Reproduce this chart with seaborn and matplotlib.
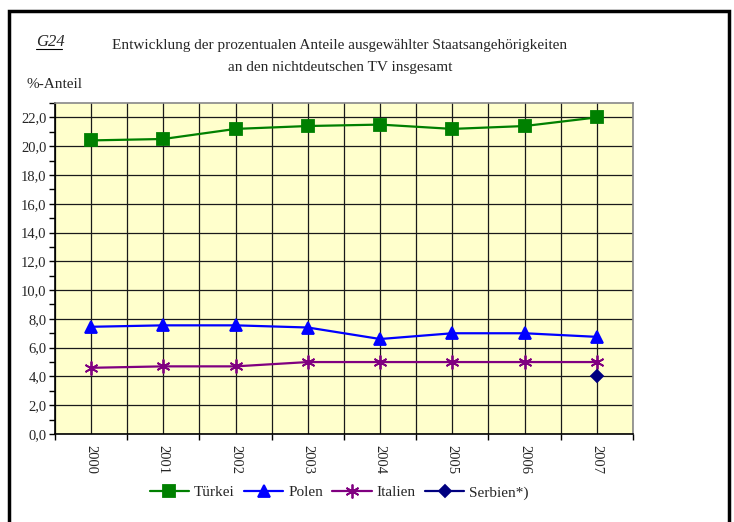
import numpy as np
import pandas as pd
import matplotlib
matplotlib.use("Agg")
import matplotlib.pyplot as plt
import seaborn as sns
from matplotlib.ticker import FuncFormatter, MultipleLocator, FixedLocator
from matplotlib.patches import Rectangle

years = ["2000", "2001", "2002", "2003", "2004", "2005", "2006", "2007"]
tuerkei = [20.4, 20.5, 21.2, 21.4, 21.5, 21.2, 21.4, 22.0]
polen = [7.45, 7.55, 7.55, 7.4, 6.6, 7.0, 7.0, 6.75]
italien = [4.6, 4.7, 4.7, 5.0, 5.0, 5.0, 5.0, 5.0]
serbien = [np.nan, np.nan, np.nan, np.nan, np.nan, np.nan, np.nan, 4.0]

series = [
    ("Türkei", tuerkei, "#008000", "s", 9),
    ("Polen", polen, "#0000FF", "^", 9),
    ("Italien", italien, "#800080", (6, 2, 0), 10),
    ("Serbien*)", serbien, "#000080", "D", 6),
]

sns.set_style("white")
plt.rcParams["font.family"] = ["Liberation Serif", "DejaVu Serif"]

fig = plt.figure(figsize=(7.34, 5.22), dpi=100)
ax = fig.add_axes([55 / 734, 1 - 434 / 522, (633 - 55) / 734, (434 - 103) / 522])
ax.set_facecolor("#FFFFCC")

pos = np.arange(len(years))
for name, vals, col, mk, ms in series:
    df = pd.DataFrame({"x": pos, "y": vals})
    sns.lineplot(data=df, x="x", y="y", ax=ax, color=col, marker=mk,
                 markersize=ms, markeredgecolor=col, markeredgewidth=1.3,
                 linewidth=1.6, label=name)

ax.set_xlim(-0.5, len(years) - 0.5)
ax.set_ylim(0, 23)

# grid: horizontal every 2, vertical at categories and boundaries
for y in np.arange(0, 23, 2):
    ax.axhline(y, color="#1a1a1a", lw=0.9, zorder=0.5)
for x in np.arange(-0.5, len(years), 0.5):
    ax.axvline(x, color="#1a1a1a", lw=0.9, zorder=0.5)

ax.yaxis.set_major_locator(MultipleLocator(2))
ax.yaxis.set_minor_locator(MultipleLocator(1))
ax.yaxis.set_major_formatter(FuncFormatter(lambda v, p: f"{v:.1f}".replace(".", ",")))
ax.xaxis.set_major_locator(FixedLocator(pos))
ax.set_xticklabels(years, rotation=-90, fontsize=10.5)
ax.xaxis.set_minor_locator(FixedLocator(np.arange(-0.5, len(years), 1.0)))
ax.tick_params(axis="x", which="major", length=0, pad=8)
ax.tick_params(axis="x", which="minor", length=4, width=1, color="black", direction="out", bottom=True)
ax.tick_params(axis="y", which="both", length=4, width=1, color="black", direction="out", left=True, labelsize=10.5)
ax.tick_params(axis="y", which="major", pad=2)
ax.set_xlabel("")
ax.set_ylabel("")

for side in ["top", "right"]:
    ax.spines[side].set_visible(True)
    ax.spines[side].set_color("#888888")
    ax.spines[side].set_linewidth(1.2)
for side in ["left", "bottom"]:
    ax.spines[side].set_color("black")
    ax.spines[side].set_linewidth(1.2)

ax.legend(loc="upper center", bbox_to_anchor=(339 / 734, 1 - 472 / 522),
          bbox_transform=fig.transFigure, ncol=4, frameon=False, fontsize=11,
          handlelength=2.6, columnspacing=0.6, handletextpad=0.3)

fig.text(36 / 734, 1 - 42 / 522, "G24", fontsize=12, style="italic", va="center")
fig.add_artist(plt.Line2D([36 / 734, 62 / 734], [1 - 49 / 522, 1 - 49 / 522],
                          color="black", lw=0.8))
fig.text(340 / 734, 1 - 46 / 522, "Entwicklung der prozentualen Anteile ausgewählter Staatsangehörigkeiten",
         fontsize=11, ha="center", va="center")
fig.text(340 / 734, 1 - 68 / 522, "an den nichtdeutschen TV insgesamt",
         fontsize=11, ha="center", va="center")
fig.text(26 / 734, 1 - 85 / 522, "%-Anteil", fontsize=11, va="center")

fig.add_artist(Rectangle((9 / 734, -0.01), (729 - 9) / 734, 1 - 11 / 522 + 0.01,
                         transform=fig.transFigure, fill=False, ec="black", lw=2.5))

fig.savefig("out.png", dpi=100)
